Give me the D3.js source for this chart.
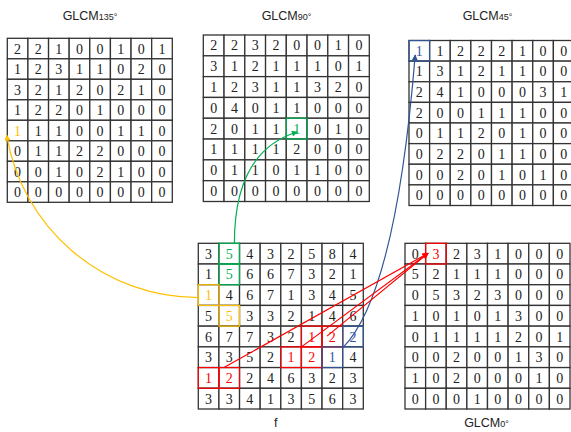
<!DOCTYPE html>
<html>
<head>
<meta charset="utf-8">
<script src="https://cdn.jsdelivr.net/npm/d3@7"></script>
<style>
  body { margin: 0; background: #fff; }
  svg { display: block; }
</style>
</head>
<body>
<div id="chart"></div>
<script>
// image f and its four co-occurrence matrices
const imageF = [
  [3, 5, 4, 3, 2, 5, 8, 4],
  [1, 5, 6, 6, 7, 3, 2, 1],
  [1, 4, 6, 7, 1, 3, 4, 5],
  [5, 5, 3, 3, 2, 1, 4, 6],
  [6, 7, 7, 3, 2, 1, 2, 2],
  [3, 3, 5, 2, 1, 2, 1, 4],
  [1, 2, 2, 4, 6, 3, 2, 3],
  [3, 3, 4, 1, 3, 5, 6, 3]
]
const glcm135 = [
  [2, 2, 1, 0, 0, 1, 0, 1],
  [1, 2, 3, 1, 1, 0, 2, 0],
  [3, 2, 1, 2, 0, 2, 1, 0],
  [1, 2, 2, 0, 1, 0, 0, 0],
  [1, 1, 1, 0, 0, 1, 1, 0],
  [0, 1, 1, 2, 2, 0, 0, 0],
  [0, 0, 1, 0, 2, 1, 0, 0],
  [0, 0, 0, 0, 0, 0, 0, 0]
]
const glcm90 = [
  [2, 2, 3, 2, 0, 0, 1, 0],
  [3, 1, 2, 1, 1, 1, 0, 1],
  [1, 2, 3, 1, 1, 3, 2, 0],
  [0, 4, 0, 1, 1, 0, 0, 0],
  [2, 0, 1, 1, 1, 0, 1, 0],
  [1, 1, 1, 1, 2, 0, 0, 0],
  [0, 1, 1, 0, 1, 1, 0, 0],
  [0, 0, 0, 0, 0, 0, 0, 0]
]
const glcm45 = [
  [1, 1, 2, 2, 2, 1, 0, 0],
  [1, 3, 1, 2, 1, 1, 0, 0],
  [2, 4, 1, 0, 0, 0, 3, 1],
  [2, 0, 0, 1, 1, 1, 0, 0],
  [0, 1, 1, 2, 0, 1, 0, 0],
  [0, 2, 2, 0, 1, 1, 0, 0],
  [0, 0, 2, 0, 1, 0, 1, 0],
  [0, 0, 0, 0, 0, 0, 0, 0]
]
const glcm0 = [
  [0, 3, 2, 3, 1, 0, 0, 0],
  [5, 2, 1, 1, 1, 0, 0, 0],
  [0, 5, 3, 2, 3, 0, 0, 0],
  [1, 0, 1, 0, 1, 3, 0, 0],
  [0, 1, 1, 1, 1, 2, 0, 1],
  [0, 0, 2, 0, 0, 1, 3, 0],
  [1, 0, 2, 0, 0, 0, 1, 0],
  [0, 0, 0, 1, 0, 0, 0, 0]
]

// highlighted cells: matrix, row, col, colour, draw border?
const highlights = [
  { m: 'f', r: 0, c: 1, color: 'green', box: true },
  { m: 'f', r: 1, c: 1, color: 'green', box: true },
  { m: 'f', r: 2, c: 0, color: 'yellow', box: true },
  { m: 'f', r: 3, c: 1, color: 'yellow', box: true },
  { m: 'f', r: 4, c: 5, color: 'red', box: true },
  { m: 'f', r: 4, c: 6, color: 'red', box: true },
  { m: 'f', r: 5, c: 4, color: 'red', box: true },
  { m: 'f', r: 5, c: 5, color: 'red', box: true },
  { m: 'f', r: 6, c: 0, color: 'red', box: true },
  { m: 'f', r: 6, c: 1, color: 'red', box: true },
  { m: 'f', r: 4, c: 7, color: 'blue', box: true },
  { m: 'f', r: 5, c: 6, color: 'blue', box: true },
  { m: 'g135', r: 4, c: 0, color: 'yellow', box: false },
  { m: 'g90', r: 4, c: 4, color: 'green', box: true },
  { m: 'g45', r: 0, c: 0, color: 'blue', box: true },
  { m: 'g0', r: 0, c: 1, color: 'red', box: true }
]

const colors = { yellow: '#ffc000', green: '#00b050', red: '#ff0000', blue: '#2f5597' }

const width = 571
const height = 432
const n = 8

const svg = d3.select('#chart').append('svg')
  .attr('width', width)
  .attr('height', height)

const defs = svg.append('defs')
Object.keys(colors).forEach(k => {
  defs.append('marker')
    .attr('id', 'arrow-' + k)
    .attr('viewBox', '0 0 10 10')
    .attr('refX', 9)
    .attr('refY', 5)
    .attr('markerWidth', 8)
    .attr('markerHeight', 6)
    .attr('markerUnits', 'userSpaceOnUse')
    .attr('orient', 'auto')
    .append('path')
    .attr('d', 'M0,0 L10,5 L0,10 z')
    .style('fill', colors[k])
})

// matrix boxes
const matrices = {
  g135: { data: glcm135, x: 7.3, y: 38.3, w: 165, h: 164, title: ['GLCM', '135°'], tx: 90, ty: 20 },
  g90: { data: glcm90, x: 203.3, y: 35, w: 166, h: 166.5, title: ['GLCM', '90°'], tx: 286.5, ty: 20 },
  g45: { data: glcm45, x: 409, y: 40.5, w: 165, h: 165, title: ['GLCM', '45°'], tx: 487.5, ty: 20 },
  f: { data: imageF, x: 198.3, y: 243.3, w: 165, h: 165.7, title: ['f', ''], tx: 275.7, ty: 427 },
  g0: { data: glcm0, x: 405, y: 243.3, w: 165, h: 165.7, title: ['GLCM', '0°'], tx: 486.5, ty: 427 }
}

Object.values(matrices).forEach(m => {
  m.xs = d3.scaleBand().domain(d3.range(n)).range([m.x, m.x + m.w])
  m.ys = d3.scaleBand().domain(d3.range(n)).range([m.y, m.y + m.h])
})

const hl = (key, r, c) => highlights.find(h => h.m === key && h.r === r && h.c === c)

Object.entries(matrices).forEach(([key, m]) => {
  const g = svg.append('g').attr('class', 'matrix ' + key)
  const cells = []
  m.data.forEach((row, r) => row.forEach((v, c) => cells.push({ r, c, v })))

  g.selectAll('rect.cell')
    .data(cells)
    .enter().append('rect')
    .attr('class', 'cell')
    .attr('x', d => m.xs(d.c))
    .attr('y', d => m.ys(d.r))
    .attr('width', m.xs.bandwidth())
    .attr('height', m.ys.bandwidth())
    .style('fill', '#fff')
    .style('stroke', '#333')
    .style('stroke-width', 1.3)

  g.selectAll('text.val')
    .data(cells)
    .enter().append('text')
    .attr('class', 'val')
    .attr('x', d => m.xs(d.c) + m.xs.bandwidth() / 2)
    .attr('y', d => m.ys(d.r) + m.ys.bandwidth() / 2 + 5)
    .attr('text-anchor', 'middle')
    .style('font-family', '"Liberation Serif", "Times New Roman", serif')
    .style('font-size', '14px')
    .style('fill', d => {
      const h = hl(key, d.r, d.c)
      return h ? colors[h.color] : '#222'
    })
    .text(d => d.v)

  // title, with the angle set smaller on the same baseline
  const t = g.append('text')
    .attr('x', m.tx)
    .attr('y', m.ty)
    .attr('text-anchor', 'middle')
    .style('font-family', '"Liberation Sans", Arial, sans-serif')
    .style('fill', '#222')
  t.append('tspan').style('font-size', '12.5px').text(m.title[0])
  if (m.title[1]) t.append('tspan').style('font-size', '9px').text(m.title[1])
})

// coloured borders on top of the grids
svg.append('g').selectAll('rect')
  .data(highlights.filter(h => h.box))
  .enter().append('rect')
  .attr('x', d => matrices[d.m].xs(d.c))
  .attr('y', d => matrices[d.m].ys(d.r))
  .attr('width', d => matrices[d.m].xs.bandwidth())
  .attr('height', d => matrices[d.m].ys.bandwidth())
  .style('fill', 'none')
  .style('stroke', d => colors[d.color])
  .style('stroke-width', 1.2)

// connectors between f and the matrices
const F = matrices.f
const cellX = (m, c, fx) => matrices[m].xs(c) + matrices[m].xs.bandwidth() * fx
const cellY = (m, r, fy) => matrices[m].ys(r) + matrices[m].ys.bandwidth() * fy

const links = svg.append('g').style('fill', 'none').style('stroke-width', 1.2)

// 135°: arc leaving f horizontally to the left
{
  const x0 = F.xs(0)
  const y0 = cellY('f', 2, 0.62)
  const x1 = cellX('g135', 0, -0.03)
  const y1 = cellY('g135', 4, 0.72)
  const dx = x0 - x1
  const dy = y0 - y1
  const r = (dx * dx + dy * dy) / (2 * dy)
  links.append('path')
    .attr('d', `M${x0},${y0} A${r},${r} 0 0 1 ${x1},${y1}`)
    .style('stroke', colors.yellow)
    .attr('marker-end', 'url(#arrow-yellow)')
}

// 90°: up from f, turning right into the matrix
{
  const x0 = cellX('f', 1, 0.75)
  const y0 = F.ys(0)
  const x1 = cellX('g90', 4, 0.53)
  const y1 = cellY('g90', 4, 0.66)
  const p = d3.path()
  p.moveTo(x0, y0)
  p.quadraticCurveTo(x0, y1 + 19, x1, y1)
  links.append('path')
    .attr('d', p.toString())
    .style('stroke', colors.green)
    .attr('marker-end', 'url(#arrow-green)')
}

// 45°: from the blue pair up to the top-left cell
{
  const x0 = F.xs(7)
  const y0 = F.ys(5) + 1
  const x1 = cellX('g45', 0, 0.3)
  const y1 = cellY('g45', 0, 0.7)
  const p = d3.path()
  p.moveTo(x0, y0)
  p.quadraticCurveTo(x0 + 53, y0 - 53, x1, y1)
  links.append('path')
    .attr('d', p.toString())
    .style('stroke', colors.blue)
    .attr('marker-end', 'url(#arrow-blue)')
}

// 0°: straight lines from the three (1,2) pairs
const redPairs = highlights.filter(h => h.m === 'f' && h.color === 'red' && h.c > 0 &&
  highlights.some(o => o.m === 'f' && o.color === 'red' && o.r === h.r && o.c === h.c - 1))
const tipX = cellX('g0', 1, 0.12)
const tipY = cellY('g0', 0, 0.48)
links.selectAll('line.red')
  .data(redPairs)
  .enter().append('line')
  .attr('class', 'red')
  .attr('x1', d => F.xs(d.c) + (d.r === 5 ? 0 : 5))
  .attr('y1', d => F.ys(d.r) + (d.r === 4 ? 10 : 0))
  .attr('x2', tipX)
  .attr('y2', tipY)
  .style('stroke', colors.red)
  .attr('marker-end', 'url(#arrow-red)')
</script>
</body>
</html>
